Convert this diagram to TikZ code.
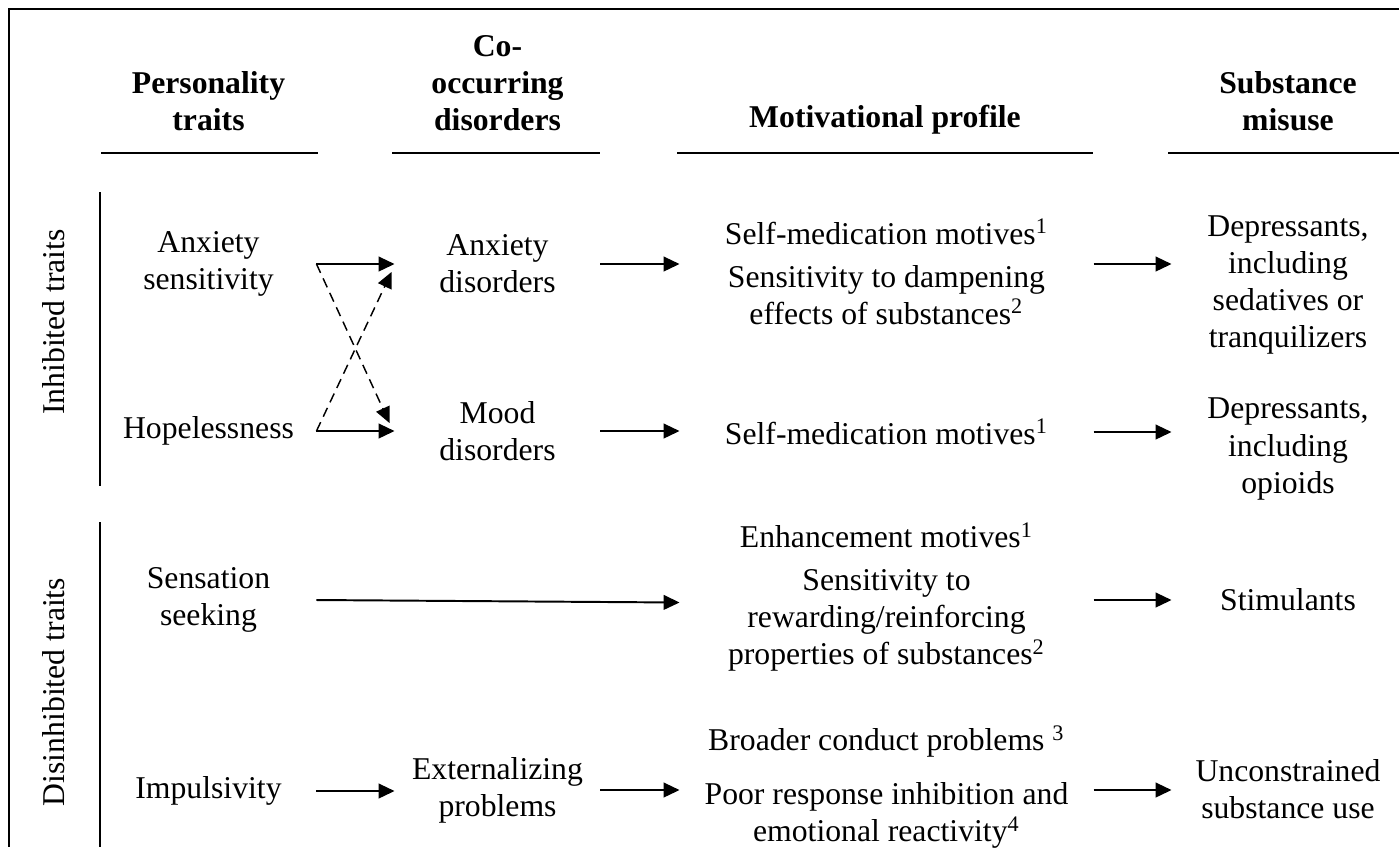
\documentclass[tikz,border=0pt]{standalone}
\usepackage{fontspec}
\setmainfont{Liberation Serif}
\usetikzlibrary{arrows.meta,calc}
\begin{document}
\begin{tikzpicture}[x=0.41pt,y=-0.41pt,
  every node/.style={font=\fontsize{13}{15.2}\selectfont, align=center, inner sep=0pt},
  head/.style={font=\fontsize{13}{15.2}\selectfont\bfseries},
  colA/.style={minimum width={215*0.41pt}},
  colB/.style={minimum width={205*0.41pt}},
  colC/.style={minimum width={413*0.41pt}},
  colD/.style={minimum width={232*0.41pt}},
  rule/.style={line width=0.8pt},
  link/.style={-{Triangle[length=6.5pt,width=6pt]}, line width=0.8pt},
  cross/.style={link, line width=0.6pt, dash pattern=on 4pt off 2.5pt}]
\useasboundingbox (0,0) rectangle (1399,847);

% outer frame (top and left)
\draw[rule] (1399,9) -- (9,9) -- (9,847);

% column headings
\node[head, colA] (hA) at (208.5,101) {Personality\\traits};
\node[head, colB] (hB) at (497.5,83) {Co-\\occurring\\disorders};
\node[head, colC] (hC) at (885,120) {Motivational profile};
\node[head, colD] (hD) at (1288,101) {Substance\\misuse};
\draw[rule] (101,153) -- (318,153);
\draw[rule] (392,153) -- (600,153);
\draw[rule] (677,153) -- (1093,153);
\draw[rule] (1168,153) -- (1399,153);

% trait group labels and separators
\draw[rule] (100,192) -- (100,486);
\draw[rule] (100,522) -- (100,847);
\node[rotate=90] (gInh) at (54,322) {Inhibited traits};
\node[rotate=90] (gDis) at (54,692) {Disinhibited traits};

% row 1: anxiety sensitivity
\node[colA] (asens) at (208.5,264) {Anxiety\\sensitivity};
\node[colB] (anxd) at (497.5,264) {Anxiety\\disorders};
\node[colC] (mot1) at (886.5,272) {Self-medication motives\textsuperscript{1}\\[2.5pt]
  Sensitivity to dampening\\effects of substances\textsuperscript{2}};
\node[colD] (dep1) at (1288,285) {Depressants,\\including\\sedatives or\\tranquilizers};

% row 2: hopelessness
\node[colA] (hope) at (208.5,431) {Hopelessness};
\node[colB] (mood) at (497.5,431) {Mood\\disorders};
\node[colC] (mot2) at (886.5,432) {Self-medication motives\textsuperscript{1}};
\node[colD] (dep2) at (1288,449) {Depressants,\\including\\opioids};

% row 3: sensation seeking
\node[colA] (sens) at (208.5,600) {Sensation\\seeking};
\node[colC] (mot3) at (886.5,597) {Enhancement motives\textsuperscript{1}\\[2.5pt]
  Sensitivity to\\rewarding/reinforcing\\properties of substances\textsuperscript{2}};
\node[colD] (stim) at (1288,600) {Stimulants};

% row 4: impulsivity
\node[colA] (imp) at (208.5,791) {Impulsivity};
\node[colB] (ext) at (497.5,790) {Externalizing\\problems};
\node[colC] (mot4) at (886.5,787) {Broader conduct problems \textsuperscript{3}\\[7pt]
  Poor response inhibition and\\emotional reactivity\textsuperscript{4}};
\node[colD] (unc) at (1288,789) {Unconstrained\\substance use};

% pathways
\draw[link] (asens.east) -- (asens.east -| anxd.west);
\draw[link] (anxd.east) -- (anxd.east -| mot1.west);
\draw[link] (anxd.east -| mot1.east) -- (anxd.east -| dep1.west);
\draw[link] (hope.east) -- (hope.east -| mood.west);
\draw[link] (mood.east) -- (mood.east -| mot2.west);
\draw[link] (mot2.east) -- (mot2.east -| dep2.west);
\draw[cross] (asens.east) -- ($(mood.west)+(-5,-8)$);
\draw[cross] (hope.east) -- ($(anxd.west)+(-3,8)$);
\draw[link] (sens.east) -- ($(sens.east -| mot3.west)+(0,2.5)$);
\draw[link] (sens.east -| mot3.east) -- (sens.east -| stim.west);
\draw[link] (imp.east) -- (imp.east -| ext.west);
\draw[link] (ext.east) -- (ext.east -| mot4.west);
\draw[link] (ext.east -| mot4.east) -- (ext.east -| unc.west);
\end{tikzpicture}
\end{document}
